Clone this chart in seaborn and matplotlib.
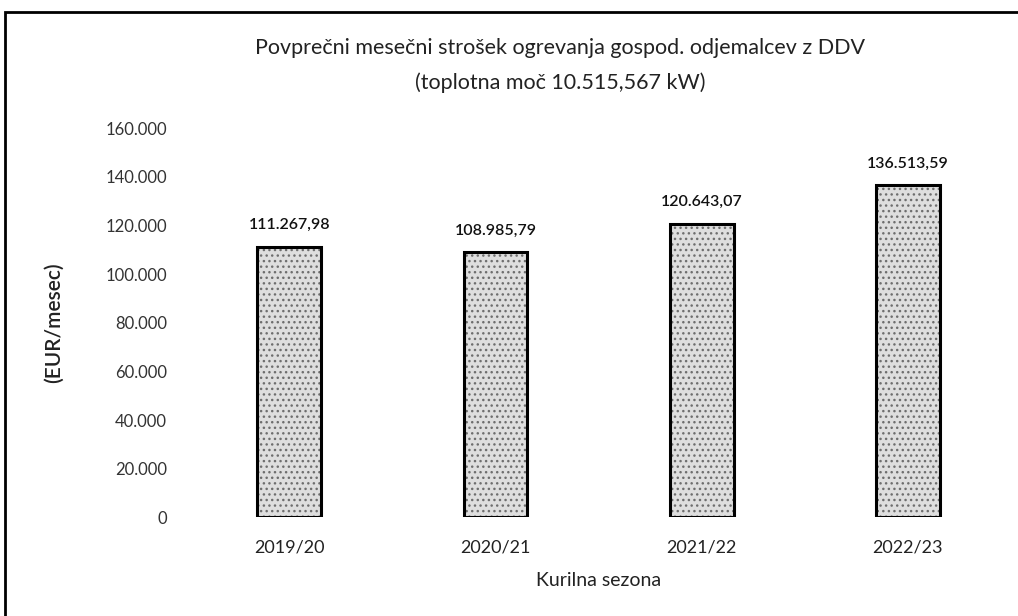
import matplotlib
matplotlib.use("Agg")
import matplotlib.pyplot as plt
import seaborn as sns
import pandas as pd

# data
seasons = ["2019/20", "2020/21", "2021/22", "2022/23"]
cost = [111267.98, 108985.79, 120643.07, 136513.59]
y_ticks = [0, 20000, 40000, 60000, 80000, 100000, 120000, 140000, 160000]


def fmt_thousands(v, decimals=0):
    s = f"{v:,.{decimals}f}"
    return s.replace(",", "X").replace(".", ",").replace("X", ".")


df = pd.DataFrame({"season": seasons, "cost": cost})

sns.set_theme(style="white")
plt.rcParams["font.family"] = ["Lato", "DejaVu Sans"]

fig = plt.figure(figsize=(10.18, 6.16), dpi=100)
ax = fig.add_axes([0.183, 0.16, 0.81, 0.632])

# textured fill first, then the black outline on top
sns.barplot(data=df, x="season", y="cost", ax=ax, width=0.31,
            color="#dedede", edgecolor="#6e6e6e", linewidth=0, hatch="...")
sns.barplot(data=df, x="season", y="cost", ax=ax, width=0.31,
            fill=False, edgecolor="black", linewidth=2.2)

ax.set_ylim(0, 160000)
ax.set_xlim(-0.5, 3.5)
ax.set_yticks(y_ticks)
ax.set_yticklabels([fmt_thousands(t) for t in y_ticks], fontsize=12, color="#333333")
ax.tick_params(axis="x", labelsize=13, colors="#222222", pad=16)
ax.tick_params(axis="y", pad=14)
ax.tick_params(length=0)
for s in ax.spines.values():
    s.set_visible(False)

for i, v in enumerate(cost):
    ax.text(i, v + 6000, fmt_thousands(v, 2), ha="center", va="bottom",
            fontsize=11.5, color="#111111", fontweight="semibold")

ax.set_xlabel("Kurilna sezona", fontsize=14, color="#222222", labelpad=12)
ax.set_ylabel("(EUR/mesec)", fontsize=15, color="#222222", labelpad=30,
              fontweight="semibold")

fig.text(0.55, 0.922, "Povprečni mesečni strošek ogrevanja gospod. odjemalcev z DDV",
         ha="center", va="center", fontsize=15.5, color="#222222")
fig.text(0.55, 0.866, "(toplotna moč 10.515,567 kW)",
         ha="center", va="center", fontsize=15.5, color="#222222")

# outer chart frame
fig.patches.append(plt.Rectangle((0.005, -0.01), 1.0, 0.99, transform=fig.transFigure,
                                 fill=False, edgecolor="black", linewidth=2))

fig.savefig("out.png", dpi=100)
